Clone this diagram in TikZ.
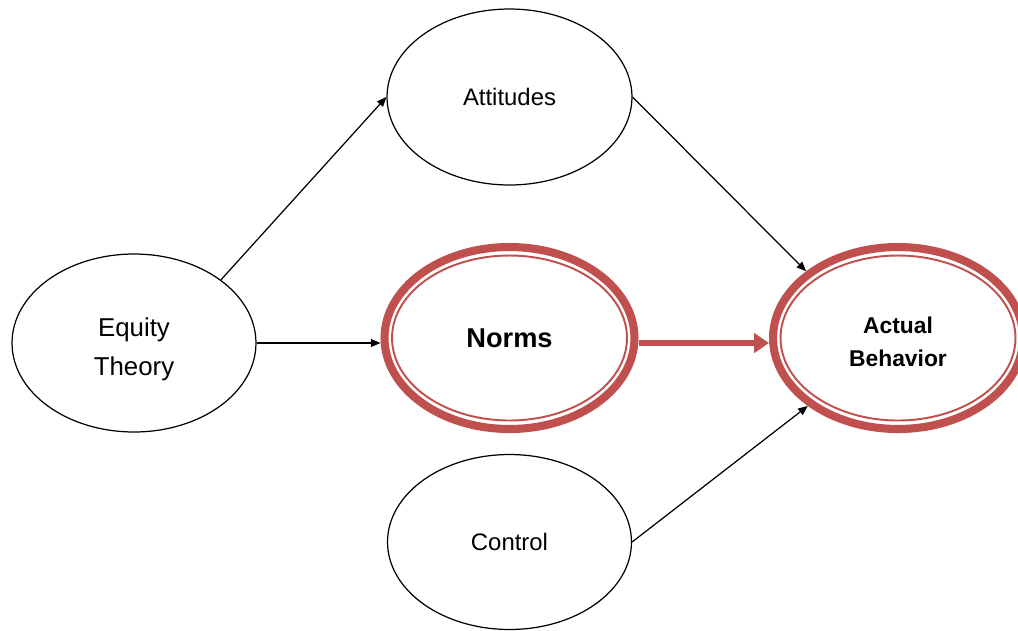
\documentclass[tikz,border=0pt]{standalone}
\usepackage{fontspec}
\setmainfont{Liberation Sans}
\usetikzlibrary{shapes.geometric,arrows.meta}
\definecolor{ringred}{HTML}{C0504D}
\tikzset{
    ellbox/.style={ellipse,draw,line width=0.7pt,inner sep=0pt},
    redring/.style={ellipse,draw=ringred,line width=4.6pt,inner sep=0pt,
        minimum width=50mm,minimum height=36.4mm},
    innerring/.style={ellipse,draw=ringred,line width=1.1pt,inner sep=0pt,
        minimum width=47mm,minimum height=33mm},
    link/.style={line width=0.7pt,-{Triangle[length=5.5pt,width=4.5pt]}},
    redlink/.style={ringred,line width=3.8pt,-{Triangle[length=8.5pt,width=11pt]}}
}
\begin{document}
\begin{tikzpicture}[x=0.02cm,y=-0.02cm]
        \useasboundingbox (0,0) rectangle (1018,630);

        \node[ellbox,minimum width=49mm,minimum height=35.2mm,
            font=\fontsize{13.6}{16}\selectfont] (attitudes) at (509.5,97) {Attitudes};
        \node[ellbox,minimum width=48.8mm,minimum height=35.6mm] (equity) at (134,343) {};
        \node[align=center,font=\fontsize{14.7}{22}\selectfont] (equitytext) at (134,349.5)
            {Equity\\Theory};
        \node[ellbox,minimum width=48.8mm,minimum height=35mm,
            font=\fontsize{13.6}{16}\selectfont] (control) at (509.5,542) {Control};

        \node[redring,font=\fontsize{15.5}{18}\selectfont\bfseries] (norms) at (509.5,338) {Norms};
        \node[innerring] (normsinner) at (norms.center) {};
        \node[redring] (actual) at (898,338) {};
        \node[innerring] (actualinner) at (actual.center) {};
        \node[align=center,font=\fontsize{13}{18.7}\selectfont\bfseries] (actualtext) at (898,341.5)
            {Actual\\Behavior};

        \draw[link] (equity.36) -- (attitudes.west);
        \draw[link] (equity.east) -- (equity.east -| norms.west);
        \draw[link] (attitudes.east) -- (actual.144);
        \draw[link] (control.east) -- (actual.217);
        \draw[redlink] (norms.east |- equity.east) -- (actual.west |- equity.east);
    \end{tikzpicture}
\end{document}
